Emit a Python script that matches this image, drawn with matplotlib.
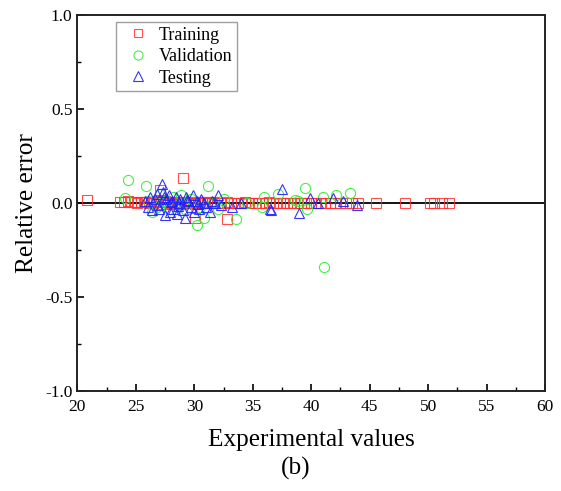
import numpy as np
import matplotlib.pyplot as plt
from matplotlib.ticker import MultipleLocator

plt.rcParams['font.family'] = ['Liberation Serif', 'DejaVu Serif']

# training set (red squares)
tr_x = [20.8, 23.6, 24.0, 24.3, 24.6, 24.9, 25.1, 25.4, 25.7, 25.9, 26.1, 26.3,
        26.5, 26.7, 26.9, 27.1, 27.3, 27.5, 27.7, 27.9, 28.1, 28.3, 28.5, 28.7,
        28.9, 29.1, 29.3, 29.5, 29.7, 29.9, 30.1, 30.3, 30.5, 30.7, 30.9, 31.1,
        31.3, 31.5, 31.7, 31.9, 32.2, 32.5, 32.8, 33.1, 33.4, 33.7, 34.0, 34.3,
        34.6, 34.9, 35.2, 35.5, 35.8, 36.1, 36.4, 36.7, 37.0, 37.3, 37.6, 37.9,
        38.2, 38.5, 38.8, 39.1, 39.4, 39.7, 40.0, 40.4, 40.8, 41.2, 41.6, 42.0,
        42.5, 43.0, 43.5, 44.0, 45.5, 48.0, 50.2, 50.5, 51.2, 51.8,
        29.0, 32.8, 30.1, 27.1]
tr_y = [0.015, 0.003, 0.005, 0.008, 0.004, 0.006, 0.002, 0.005, 0.003, 0.007, 0.001, 0.004,
        -0.002, 0.006, 0.010, -0.004, 0.003, 0.008, -0.006, 0.002, 0.005, -0.003, 0.004, 0.001,
        -0.005, 0.006, 0.002, -0.002, 0.004, 0.001, -0.003, 0.002, 0.005, -0.001, 0.003, 0.000,
        0.004, -0.002, 0.003, 0.001, 0.002, -0.001, 0.003, 0.000, 0.002, -0.002, 0.001, 0.003,
        0.000, 0.002, -0.001, 0.001, 0.002, 0.000, 0.003, -0.001, 0.001, 0.002, 0.000, 0.001,
        0.002, -0.001, 0.001, 0.000, 0.002, 0.001, -0.001, 0.001, 0.000, 0.002, 0.001, 0.000,
        0.001, 0.000, 0.002, 0.001, 0.002, 0.001, 0.001, -0.002, 0.000, -0.001,
        0.133, -0.085, -0.080, 0.070]

# validation set (green circles)
va_x = [24.1, 24.3, 25.9, 26.4, 26.8, 27.1, 27.4, 27.8, 28.2, 28.6, 28.9, 29.3,
        29.7, 30.2, 30.5, 30.8, 31.2, 31.6, 32.0, 32.5, 33.6, 35.8, 36.0, 37.2,
        38.6, 38.9, 39.5, 39.6, 41.0, 41.1, 42.1, 43.3, 26.0, 29.0, 34.5]
va_y = [0.025, 0.122, 0.090, -0.050, -0.020, 0.050, 0.010, -0.030, 0.030, -0.010, 0.040, -0.040,
        0.020, -0.115, -0.020, -0.080, 0.090, 0.000, -0.030, 0.020, -0.085, -0.020, 0.030, 0.050,
        0.015, 0.010, 0.080, -0.030, 0.030, -0.340, 0.045, 0.055, 0.010, 0.000, 0.000]

# testing set (blue triangles)
te_x = [25.8, 26.0, 26.2, 26.4, 26.6, 26.8, 27.0, 27.2, 27.3, 27.5, 27.6, 27.8,
        27.9, 28.1, 28.2, 28.4, 28.5, 28.7, 28.8, 29.0, 29.2, 29.3, 29.5, 29.7,
        29.9, 30.0, 30.2, 30.4, 30.6, 30.8, 31.0, 31.3, 31.5, 31.8, 32.0, 32.3,
        26.9, 27.4, 28.0, 28.6, 29.4, 30.3,
        33.2, 34.0, 36.5, 36.6, 37.5, 38.95, 39.9, 40.6, 41.9, 42.7, 43.9]
te_y = [0.010, -0.020, 0.030, -0.040, 0.020, 0.050, -0.030, 0.100, 0.060, -0.065, 0.020, 0.040,
        -0.050, 0.010, -0.030, 0.030, -0.060, 0.000, 0.020, -0.040, -0.080, 0.030, 0.010, -0.020,
        0.040, -0.050, 0.010, -0.030, 0.020, 0.000, -0.020, -0.050, 0.010, 0.000, 0.040, -0.010,
        -0.010, 0.030, 0.005, -0.015, 0.015, -0.005,
        -0.020, 0.000, -0.030, -0.040, 0.075, -0.055, 0.025, 0.000, 0.025, 0.010, -0.010]

fig = plt.figure(figsize=(5.61, 4.91), dpi=100)
ax = fig.add_axes([0.138, 0.2037, 0.8335, 0.7658])

ax.axhline(0, color='black', lw=1.3, zorder=1)
ax.plot(tr_x, tr_y, 's', mfc='none', mec='#ff3030', ms=6.8, mew=0.8, alpha=0.85, label='Training')
ax.plot(va_x, va_y, 'o', mfc='none', mec='#33ee33', ms=7.3, mew=0.8, alpha=0.9, label='Validation')
ax.plot(te_x, te_y, '^', mfc='none', mec='#2020ff', ms=7.8, mew=0.8, alpha=0.9, label='Testing')

ax.set_xlim(20, 60)
ax.set_ylim(-1.0, 1.0)
ax.xaxis.set_major_locator(MultipleLocator(5))
ax.xaxis.set_minor_locator(MultipleLocator(2.5))
ax.yaxis.set_major_locator(MultipleLocator(0.5))
ax.yaxis.set_minor_locator(MultipleLocator(0.25))
ax.yaxis.set_major_formatter(plt.FormatStrFormatter('%.1f'))
ax.tick_params(which='both', direction='in', top=False, right=False, labelsize=12.5)
ax.tick_params(axis='x', pad=6)
ax.tick_params(which='major', length=5, width=1.2)
ax.tick_params(which='minor', length=3, width=1.0)
for s in ax.spines.values():
    s.set_linewidth(1.4)
    s.set_color('#222222')

ax.set_xlabel('Experimental values', fontsize=18.2, labelpad=10)
ax.set_ylabel('Relative error', fontsize=18.2, labelpad=5)
fig.text(0.527, 0.046, '(b)', ha='center', va='center', fontsize=18.2)

leg = ax.legend(loc='upper left', bbox_to_anchor=(0.082, 0.981), borderaxespad=0,
                fontsize=13, frameon=True, fancybox=False, handletextpad=0.2,
                borderpad=0.25, labelspacing=0.25, handlelength=1.95, markerscale=0.9)
leg.get_frame().set_edgecolor('#888888')
leg.get_frame().set_linewidth(1.0)

fig.savefig('out.png', dpi=100)
